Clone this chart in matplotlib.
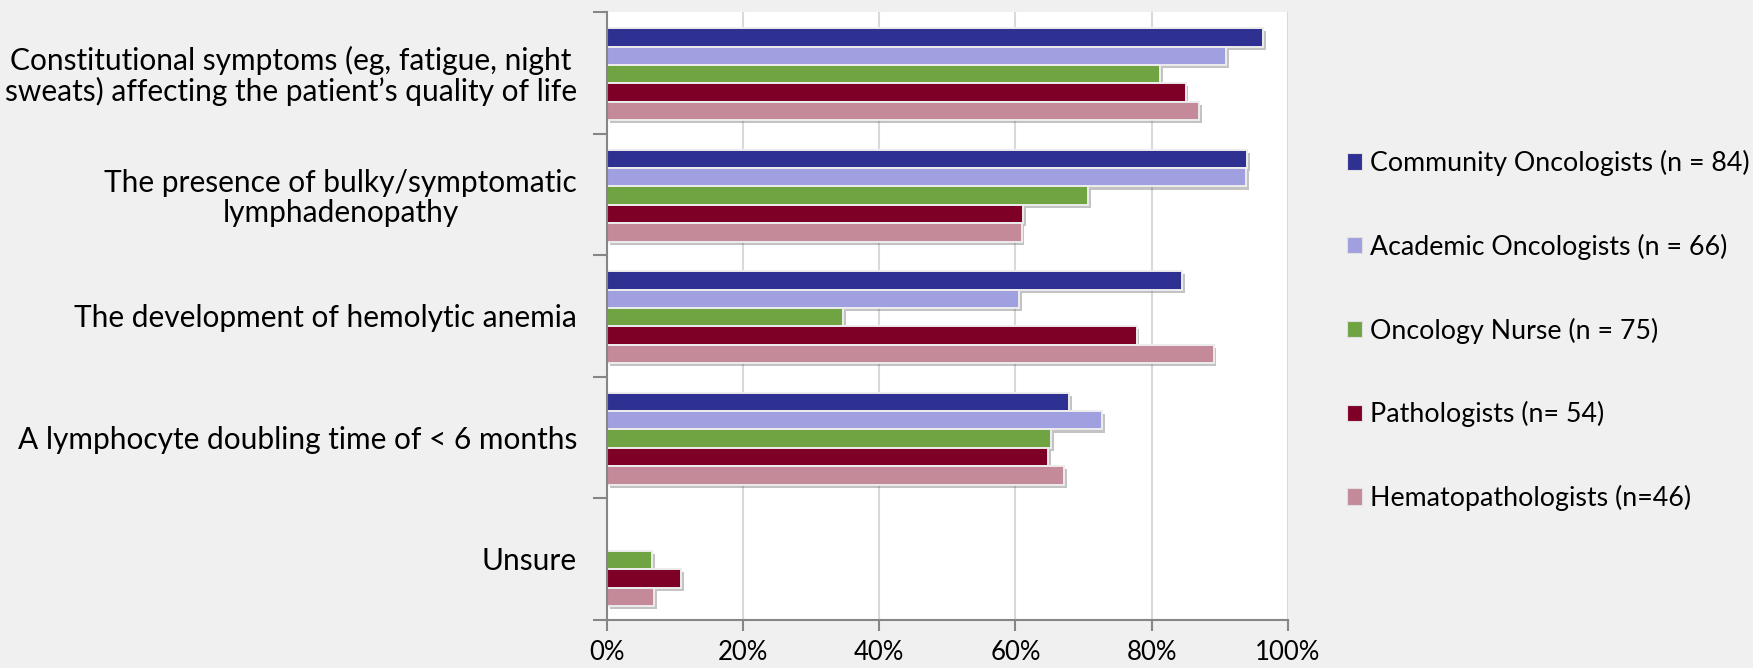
import matplotlib
matplotlib.use("Agg")
import matplotlib.pyplot as plt
import matplotlib.patheffects as pe
from matplotlib.patches import Patch
import numpy as np

plt.rcParams['font.family'] = ['Lato', 'DejaVu Sans']

categories = [
    "Constitutional symptoms (eg, fatigue, night\nsweats) affecting the patient\u2019s quality of life",
    "The presence of bulky/symptomatic\nlymphadenopathy",
    "The development of hemolytic anemia",
    "A lymphocyte doubling time of < 6 months",
    "Unsure",
]
series_names = [
    "Community Oncologists (n = 84)",
    "Academic Oncologists (n = 66)",
    "Oncology Nurse (n = 75)",
    "Pathologists (n= 54)",
    "Hematopathologists (n=46)",
]
community = [96.4, 94.0, 84.5, 67.9, 0.0]
academic = [90.9, 93.9, 60.6, 72.7, 0.0]
nurse = [81.3, 70.7, 34.7, 65.3, 6.7]
pathologists = [85.0, 61.1, 77.8, 64.8, 10.9]
hematopath = [87.0, 60.9, 89.1, 67.2, 6.9]
x_ticks = [0, 20, 40, 60, 80, 100]
x_tick_labels = ["0%", "20%", "40%", "60%", "80%", "100%"]

colors = ["#2E3192", "#A0A0E0", "#70A442", "#7F0026", "#C48A99"]
series = [community, academic, nurse, pathologists, hematopath]

W, H = 1753, 668
fig = plt.figure(figsize=(W / 100, H / 100), dpi=100, facecolor="#F0F0F0")
ax = fig.add_axes([606.8 / W, 1 - 619.5 / H, 681 / W, (619.5 - 12.0) / H])
ax.set_facecolor("white")

step = 0.152
centers = np.arange(len(categories)) + 0.5
shadow = [pe.SimplePatchShadow(offset=(2, -2.2), shadow_rgbFace="#555555", alpha=0.35), pe.Normal()]
for j, (vals, col) in enumerate(zip(series, colors)):
    y = centers + (j - 2) * step + 0.012
    bars = ax.barh(y, vals, height=step, color=col, edgecolor="#EDEDED",
                   linewidth=1.4, zorder=3)
    for b, v in zip(bars, vals):
        if v <= 0:
            b.set_visible(False)
        else:
            b.set_path_effects(shadow)

ax.set_xlim(0, 100)
ax.set_ylim(len(categories), 0)

ax.set_xticks(x_ticks)
ax.set_xticklabels(x_tick_labels, fontsize=18.5)
ax.set_yticks(centers)
ax.set_yticklabels(categories, fontsize=21.5, multialignment="center", linespacing=1.08)
ax.set_yticks(np.arange(len(categories) + 1), minor=True)

ax.tick_params(axis="x", direction="out", length=8, width=1.5, color="#868686", pad=7)
ax.tick_params(axis="y", which="major", length=0, pad=21.5)
ax.tick_params(axis="y", which="minor", direction="out", length=10, width=1.5, color="#868686")

ax.grid(axis="x", color="#D9D9D9", linewidth=1.5, zorder=0)
for s in ["top", "right"]:
    ax.spines[s].set_visible(False)
for s in ["left", "bottom"]:
    ax.spines[s].set_color("#868686")
    ax.spines[s].set_linewidth(1.5)
    ax.spines[s].set_zorder(4)

handles = [Patch(facecolor=c, edgecolor="#E0E0E0", linewidth=0.8) for c in colors]
fig.legend(handles, series_names, loc="center left", bbox_to_anchor=(1346.7 / W, 1 - 330.5 / H),
           frameon=False, fontsize=19.3, handlelength=0.56, handleheight=0.56,
           handletextpad=0.32, labelspacing=2.15, borderpad=0, borderaxespad=0)

fig.savefig("out.png", dpi=100, facecolor=fig.get_facecolor())
